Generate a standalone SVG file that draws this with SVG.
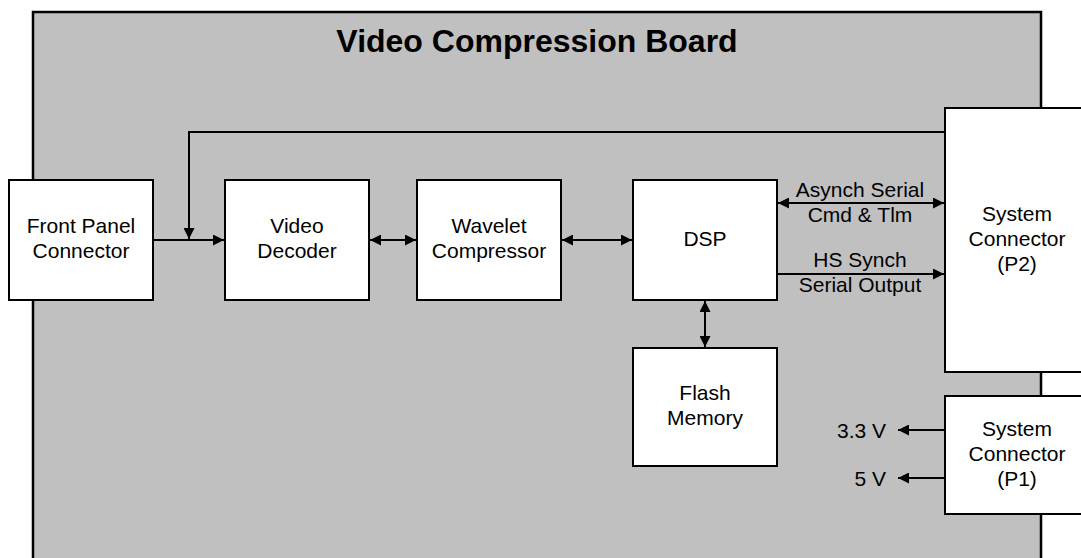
<svg xmlns="http://www.w3.org/2000/svg" width="1081" height="558" viewBox="0 0 1081 558">
<style>
.box{fill:#ffffff;stroke:#000000;stroke-width:2}
.t{font-family:"Liberation Sans",Arial,sans-serif;font-size:21px;fill:#000000;text-anchor:middle}
.w{stroke:#000000;stroke-width:2;fill:none}
</style>
<defs>
<marker id="ah" viewBox="0 0 11 11" refX="11" refY="5.5" markerWidth="11" markerHeight="11" markerUnits="userSpaceOnUse" orient="auto-start-reverse">
<path d="M0,0 L11,5.5 L0,11 Z" fill="#000000"/>
</marker>
</defs>
<g id="board">
<rect x="33" y="12" width="1008" height="570" fill="#c0c0c0" stroke="#000000" stroke-width="2.5"/>
<text x="537" y="52" font-family="'Liberation Sans',Arial,sans-serif" font-size="32" font-weight="bold" text-anchor="middle">Video Compression Board</text>
</g>
<g id="connectors">
<path class="w" d="M945,132 H189 V239" marker-end="url(#ah)"/>
<path class="w" d="M153,240 H224" marker-end="url(#ah)"/>
<path class="w" d="M370,240 H416" marker-start="url(#ah)" marker-end="url(#ah)"/>
<path class="w" d="M562,240 H632" marker-start="url(#ah)" marker-end="url(#ah)"/>
<path class="w" d="M778,203 H944" marker-start="url(#ah)" marker-end="url(#ah)"/>
<path class="w" d="M777,274 H944" marker-end="url(#ah)"/>
<path class="w" d="M705,301 V347" marker-start="url(#ah)" marker-end="url(#ah)"/>
<path class="w" d="M945,430 H898" marker-end="url(#ah)"/>
<path class="w" d="M945,478 H898" marker-end="url(#ah)"/>
<text class="t" x="860" y="197">Asynch Serial</text>
<text class="t" x="860" y="222">Cmd &amp; Tlm</text>
<text class="t" x="860" y="267">HS Synch</text>
<text class="t" x="860" y="292">Serial Output</text>
<text class="t" x="886" y="438" text-anchor="end" style="text-anchor:end">3.3 V</text>
<text class="t" x="886" y="486" text-anchor="end" style="text-anchor:end">5 V</text>
</g>
<g id="front-panel">
<rect class="box" x="9" y="180" width="144" height="120"/>
<text class="t" x="81" y="233">Front Panel</text>
<text class="t" x="81" y="258">Connector</text>
</g>
<g id="video-decoder">
<rect class="box" x="225" y="180" width="144" height="120"/>
<text class="t" x="297" y="233">Video</text>
<text class="t" x="297" y="258">Decoder</text>
</g>
<g id="wavelet">
<rect class="box" x="417" y="180" width="144" height="120"/>
<text class="t" x="489" y="233">Wavelet</text>
<text class="t" x="489" y="258">Compressor</text>
</g>
<g id="dsp">
<rect class="box" x="633" y="180" width="144" height="120"/>
<text class="t" x="705" y="246">DSP</text>
</g>
<g id="flash">
<rect class="box" x="633" y="348" width="144" height="118"/>
<text class="t" x="705" y="400">Flash</text>
<text class="t" x="705" y="425">Memory</text>
</g>
<g id="p2">
<rect class="box" x="945" y="108" width="144" height="264"/>
<text class="t" x="1017" y="221">System</text>
<text class="t" x="1017" y="246">Connector</text>
<text class="t" x="1017" y="271">(P2)</text>
</g>
<g id="p1">
<rect class="box" x="945" y="396" width="144" height="118"/>
<text class="t" x="1017" y="436">System</text>
<text class="t" x="1017" y="461">Connector</text>
<text class="t" x="1017" y="486">(P1)</text>
</g>
</svg>
